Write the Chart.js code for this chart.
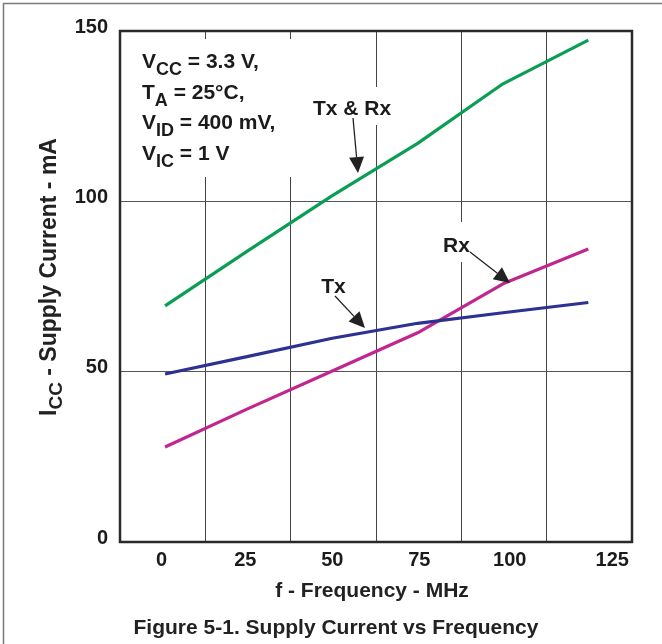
<!DOCTYPE html>
<html>
<head>
<meta charset="utf-8">
<script src="https://cdn.jsdelivr.net/npm/chart.js@4.4.1/dist/chart.umd.min.js"></script>
<style>
  html, body { margin: 0; padding: 0; background: #fff; }
  canvas { display: block; }
</style>
</head>
<body>
<canvas id="supplyChart" width="662" height="644"></canvas>
<script>
// frequency in MHz, current in mA
var freq = [1, 25, 50, 75, 100, 125];
var txRx = [69.3, 85.3, 101.7, 117, 134.5, 147.3];
var tx = [49.3, 54.4, 59.8, 64.2, 67.3, 70.3];
var rx = [27.9, 39, 50.2, 61.4, 75.8, 86];

var xTickLabels = ['0', '25', '50', '75', '100', '125'];
var yTickLabels = ['0', '50', '100', '150'];

// where the x labels sit on the printed figure (they drift a little)
var xLabelAt = [0, 24.5, 50, 75.5, 102, 132];

var X_MIN = -12.2, X_MAX = 137.8;
var FONT = "'Liberation Sans', Arial, sans-serif";
var INK = '#1b1b1b';

function toPoints(xs, ys) {
    return xs.map(function(x, i) { return { x: x, y: ys[i] }; });
}

function drawParts(ctx, parts, x, y, size, subSize, subShift) {
    parts.forEach(function(p) {
        var sub = p[1] === 'sub';
        ctx.font = 'bold ' + (sub ? subSize : size) + 'px ' + FONT;
        ctx.fillText(p[0], x, y + (sub ? subShift : 0));
        x += ctx.measureText(p[0]).width;
    });
    return x;
}

function partsWidth(ctx, parts, size, subSize) {
    var w = 0;
    parts.forEach(function(p) {
        ctx.font = 'bold ' + (p[1] === 'sub' ? subSize : size) + 'px ' + FONT;
        w += ctx.measureText(p[0]).width;
    });
    return w;
}

function arrow(ctx, x1, y1, x2, y2) {
    var a = Math.atan2(y2 - y1, x2 - x1);
    var len = 16, half = 7.5;
    var bx = x2 - len * Math.cos(a), by = y2 - len * Math.sin(a);
    ctx.strokeStyle = '#222';
    ctx.lineWidth = 1.3;
    ctx.beginPath();
    ctx.moveTo(x1, y1);
    ctx.lineTo(bx, by);
    ctx.stroke();
    ctx.fillStyle = '#222';
    ctx.beginPath();
    ctx.moveTo(x2, y2);
    ctx.lineTo(bx + half * Math.sin(a), by - half * Math.cos(a));
    ctx.lineTo(bx - half * Math.sin(a), by + half * Math.cos(a));
    ctx.closePath();
    ctx.fill();
}

var paper = {
    id: 'paper',
    beforeDraw: function(chart) {
        var ctx = chart.ctx;
        ctx.save();
        ctx.fillStyle = '#fff';
        ctx.fillRect(0, 0, chart.width, chart.height);
        ctx.restore();
    },
    beforeDatasetsDraw: function(chart) {
        // text sits on white, breaking the grid
        var ctx = chart.ctx;
        ctx.save();
        ctx.fillStyle = '#fff';
        ctx.fillRect(136, 39, 166, 138);
        ctx.fillRect(305, 87, 92, 38);
        ctx.fillRect(437, 222, 42, 40);
        ctx.restore();
    },
    afterDraw: function(chart) {
        var ctx = chart.ctx;
        var a = chart.chartArea;
        ctx.save();

        // outer figure border
        ctx.strokeStyle = '#7a7a7a';
        ctx.lineWidth = 1.5;
        ctx.strokeRect(3.5, 3.5, 720, 720);

        // plot frame
        ctx.strokeStyle = '#2a2a2a';
        ctx.lineWidth = 2.5;
        ctx.strokeRect(a.left, a.top, a.right - a.left, a.bottom - a.top);

        ctx.fillStyle = INK;
        ctx.textBaseline = 'alphabetic';
        ctx.textAlign = 'left';

        var cond = [
            [['V'], ['CC', 'sub'], [' = 3.3 V,']],
            [['T'], ['A', 'sub'], [' = 25°C,']],
            [['V'], ['ID', 'sub'], [' = 400 mV,']],
            [['V'], ['IC', 'sub'], [' = 1 V']]
        ];
        cond.forEach(function(line, i) {
            drawParts(ctx, line, 142, 68 + i * 30.5, 21, 18, 7);
        });

        ctx.font = 'bold 21px ' + FONT;
        ctx.textAlign = 'center';
        ctx.fillText('Tx & Rx', 352, 114.5);
        ctx.fillText('Tx', 333.5, 292.5);
        ctx.fillText('Rx', 456.5, 251.5);

        arrow(ctx, 353, 118, 358, 173);
        arrow(ctx, 335, 296, 365, 328);
        arrow(ctx, 470, 252, 510, 283);

        // axis titles and caption
        ctx.font = 'bold 21px ' + FONT;
        ctx.fillText('f - Frequency - MHz', 372, 597);
        ctx.fillText('Figure 5-1. Supply Current vs Frequency', 336, 634);

        var yTitle = [['I'], ['CC', 'sub'], [' - Supply Current - mA']];
        ctx.textAlign = 'left';
        var w = partsWidth(ctx, yTitle, 23, 19);
        ctx.translate(56, 277);
        ctx.rotate(-Math.PI / 2);
        drawParts(ctx, yTitle, -w / 2, 0, 23, 19, 6);

        ctx.restore();
    }
};

new Chart(document.getElementById('supplyChart'), {
    type: 'line',
    data: {
        datasets: [
            {
                label: 'Tx & Rx',
                data: toPoints(freq, txRx),
                borderColor: '#0a9e55',
                borderWidth: 3.2
            }, {
                label: 'Tx',
                data: toPoints(freq, tx),
                borderColor: '#2c3192',
                borderWidth: 3.2
            }, {
                label: 'Rx',
                data: toPoints(freq, rx),
                borderColor: '#c0268e',
                borderWidth: 3.2
            }
        ]
    },
    options: {
        responsive: false,
        animation: false,
        layout: { padding: { top: 31, right: 30, left: 0, bottom: 0 } },
        elements: {
            point: { radius: 0 },
            line: { tension: 0, borderCapStyle: 'butt', borderJoinStyle: 'round' }
        },
        plugins: {
            legend: { display: false },
            tooltip: { enabled: false },
            title: { display: false }
        },
        scales: {
            x: {
                type: 'linear',
                min: X_MIN,
                max: X_MAX,
                weight: 0,
                border: { display: false },
                grid: { color: '#444', lineWidth: 1, drawTicks: false },
                ticks: { display: false },
                afterBuildTicks: function(scale) {
                    var t = [];
                    for (var v = X_MIN + 25; v < X_MAX - 1; v += 25) t.push({ value: v });
                    scale.ticks = t;
                },
                afterFit: function(scale) { scale.height = 0; }
            },
            x2: {
                type: 'linear',
                position: 'bottom',
                min: X_MIN,
                max: X_MAX,
                weight: 1,
                border: { display: false },
                grid: { display: false, drawTicks: false },
                ticks: {
                    autoSkip: false,
                    maxRotation: 0,
                    padding: 6,
                    color: INK,
                    font: { family: FONT, size: 20, weight: 'bold' },
                    callback: function(v, i) { return xTickLabels[i]; }
                },
                afterBuildTicks: function(scale) {
                    scale.ticks = xLabelAt.map(function(v) { return { value: v }; });
                },
                afterFit: function(scale) { scale.height = 102; }
            },
            y: {
                min: 0,
                max: 150,
                border: { display: false },
                grid: { color: '#555', lineWidth: 1, drawTicks: false },
                ticks: {
                    stepSize: 50,
                    padding: 12,
                    labelOffset: -4,
                    color: INK,
                    font: { family: FONT, size: 20, weight: 'bold' },
                    callback: function(v, i) { return yTickLabels[i]; }
                },
                afterFit: function(scale) { scale.width = 120; }
            }
        }
    },
    plugins: [paper]
});
</script>
</body>
</html>
